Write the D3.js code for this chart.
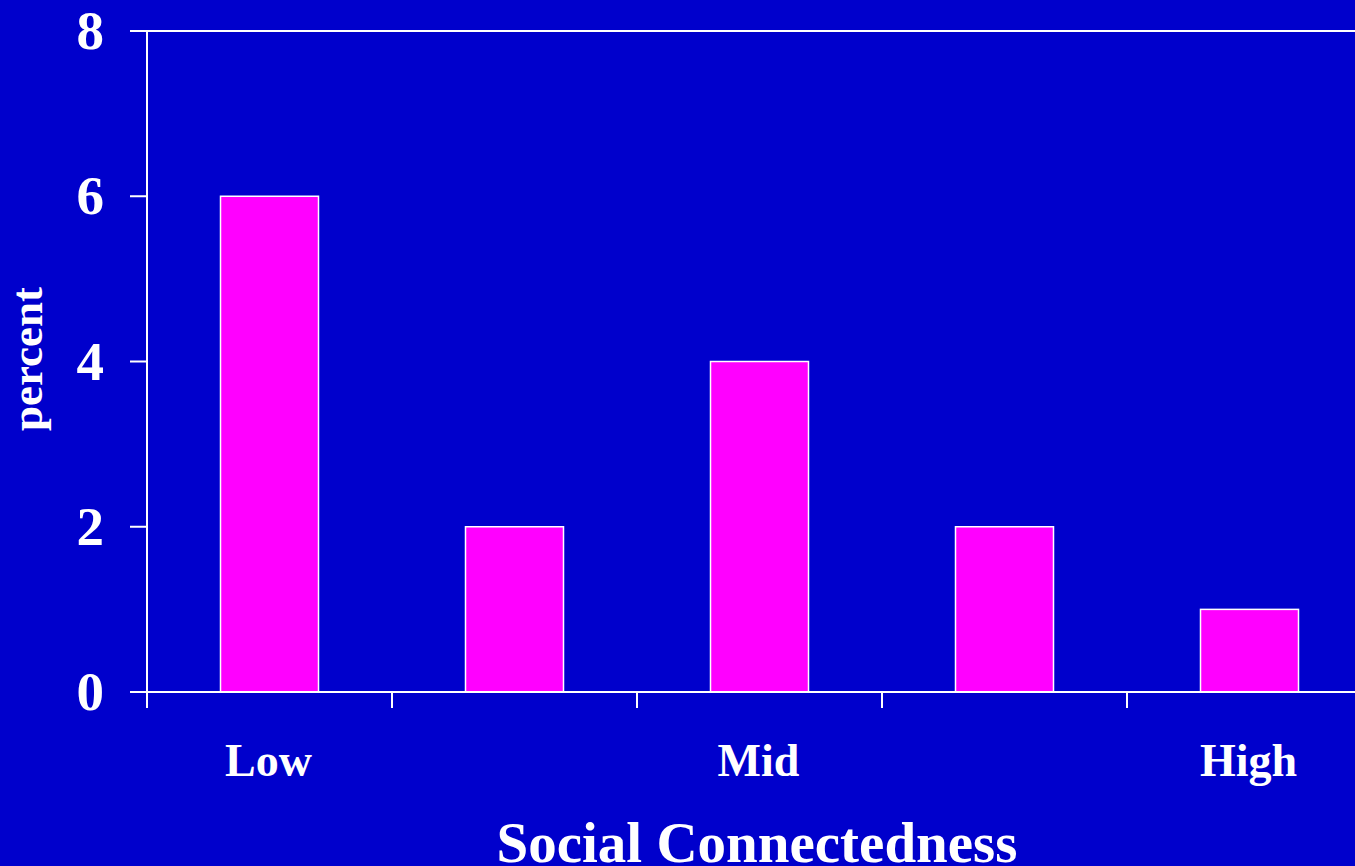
<!DOCTYPE html>
<html>
<head>
<meta charset="utf-8">
<script src="https://cdn.jsdelivr.net/npm/d3@7"></script>
<style>
  html, body { margin: 0; padding: 0; background: #0000CC; overflow: hidden; }
  svg { display: block; }
  text { font-family: "Liberation Serif", "Times New Roman", serif; font-weight: bold; fill: #ffffff; }
</style>
</head>
<body>
<svg id="chart" width="1355" height="866"></svg>
<script>
const categories = ["c1", "c2", "c3", "c4", "c5"];
const categoryLabels = ["Low", "", "Mid", "", "High"];
const percentValues = [6, 2, 4, 2, 1];
const yTicks = [0, 2, 4, 6, 8];
const xAxisTitle = "Social Connectedness";
const yAxisTitle = "percent";

const W = 1355, H = 866;
const svg = d3.select("#chart");
svg.append("rect").attr("width", W).attr("height", H).attr("fill", "#0000CC");

const x0 = 147, y0 = 692, yTop = 31;
const x = d3.scaleBand().domain(categories).range([x0, x0 + 5 * 245]).paddingInner(0.6).paddingOuter(0.3);
const y = d3.scaleLinear().domain([0, 8]).range([y0, yTop]);
const step = x.step();

// bars
svg.append("g").selectAll("rect").data(categories).join("rect")
  .attr("x", d => x(d))
  .attr("y", (d, i) => y(percentValues[i]))
  .attr("width", x.bandwidth())
  .attr("height", (d, i) => y(0) - y(percentValues[i]))
  .attr("fill", "#FF00FF")
  .attr("stroke", "#ffffff")
  .attr("stroke-width", 1.5);

const lineColor = "#ffffff";
// horizontal lines at 0 and 8
[0, 8].forEach(v => {
  svg.append("line").attr("x1", 130).attr("x2", W).attr("y1", y(v)).attr("y2", y(v))
    .attr("stroke", lineColor).attr("stroke-width", 2);
});
// y axis line
svg.append("line").attr("x1", x0).attr("x2", x0).attr("y1", y(8)).attr("y2", y(0))
  .attr("stroke", lineColor).attr("stroke-width", 2);
// y ticks
const yg = svg.append("g");
yTicks.forEach(t => {
  yg.append("line").attr("x1", 130).attr("x2", x0).attr("y1", y(t)).attr("y2", y(t))
    .attr("stroke", lineColor).attr("stroke-width", 2);
  yg.append("text").attr("x", 104).attr("y", y(t) + 18)
    .attr("text-anchor", "end").attr("font-size", 55).text(t);
});
// x ticks at band left edges
const xg = svg.append("g");
categories.forEach((c, i) => {
  const tx = x(c) - step * 0.3;
  xg.append("line").attr("x1", tx).attr("x2", tx).attr("y1", y0).attr("y2", 708)
    .attr("stroke", lineColor).attr("stroke-width", 2);
  if (categoryLabels[i]) {
    xg.append("text").attr("x", x(c) + x.bandwidth() / 2 - 1).attr("y", 776)
      .attr("text-anchor", "middle").attr("font-size", 46).text(categoryLabels[i]);
  }
});
// axis titles
svg.append("text").attr("x", 757).attr("y", 862).attr("text-anchor", "middle")
  .attr("font-size", 57).text(xAxisTitle);
svg.append("text").attr("transform", "translate(42,359) rotate(-90)")
  .attr("text-anchor", "middle").attr("font-size", 45).text(yAxisTitle);
</script>
</body>
</html>
